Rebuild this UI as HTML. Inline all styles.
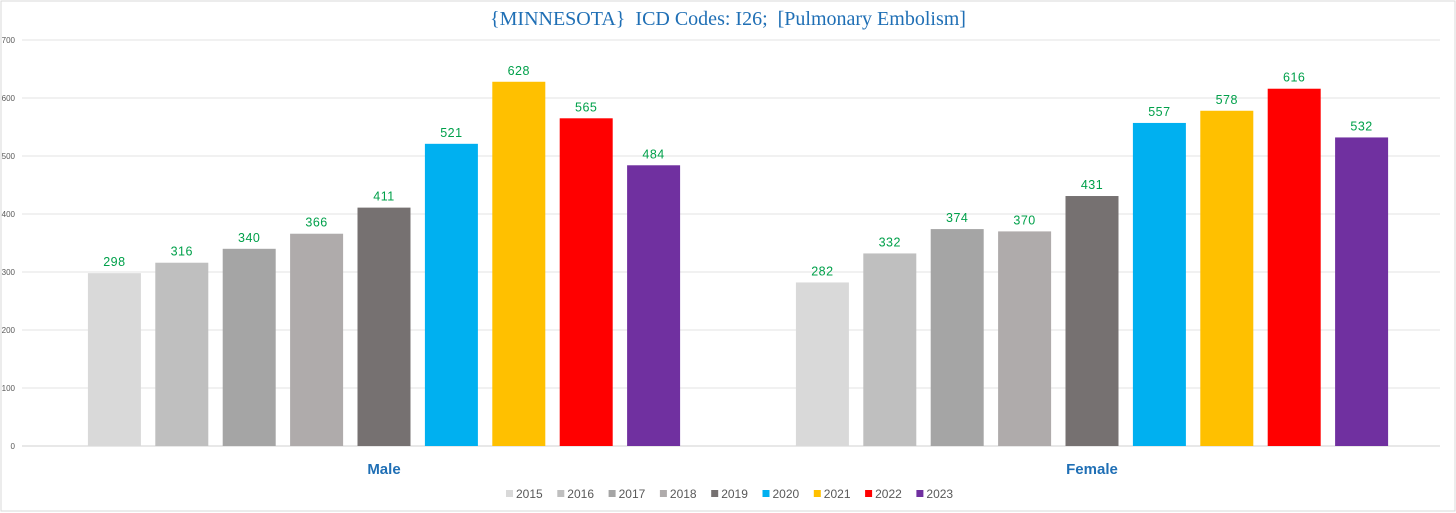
<!DOCTYPE html>
<html><head><meta charset="utf-8"><style>
body{margin:0;background:#fff;}
svg{display:block;font-family:"Liberation Sans",sans-serif;}
</style></head><body>
<svg id="chart" width="1456" height="513" viewBox="0 0 1456 513">
<rect x="1" y="1" width="1454" height="510" fill="#fff" stroke="#d9d9d9"/>
<text x="728" y="25" text-anchor="middle" font-family="Liberation Serif,serif" font-size="20" fill="#1f6fb5" style="white-space:pre">{MINNESOTA}  ICD Codes: I26;  [Pulmonary Embolism]</text>
<g id="grid"></g><g id="bars"></g><g id="legend"></g>
</svg>
<script>
const categories=["Male","Female"];
const years=["2015","2016","2017","2018","2019","2020","2021","2022","2023"];
const male=[298,316,340,366,411,521,628,565,484];
const female=[282,332,374,370,431,557,578,616,532];
const yTicks=[0,100,200,300,400,500,600,700];
const colors=["#d9d9d9","#bfbfbf","#a5a5a5","#afabab","#767171","#00b0f0","#ffc000","#ff0000","#7030a0"];
const series=[male,female];
const NS="http://www.w3.org/2000/svg";
function mk(t,a,p){const e=document.createElementNS(NS,t);for(const k in a)e.setAttribute(k,a[k]);p.appendChild(e);return e;}
const y0=446,y1=40,yMax=700;
const y=v=>y0-(v/yMax)*(y0-y1);
const bandX0=30,band=708,pitch=67.4,bw=53;
const catC=i=>bandX0+band*(i+0.5);
const grid=document.getElementById('grid');
yTicks.forEach(t=>{
 const l=mk('line',{x1:22,x2:1440,y1:y(t),y2:y(t),stroke:t===0?'#d0d0d0':'#e3e3e3','stroke-width':1},grid);
 
 
 const tx=mk('text',{x:15,y:y(t)+3,'text-anchor':'end','font-size':8,fill:'#595959'},grid);
 tx.textContent=t;
 
 
});
const bars=document.getElementById('bars');
categories.forEach((c,ci)=>{
 const cx=catC(ci);
 series[ci].forEach((v,i)=>{
  const x=cx+(i-4)*pitch-bw/2;
  const r=mk('rect',{x:x,y:y(v),width:bw,height:y0-y(v),fill:colors[i]},bars);
  
  
  const t=mk('text',{x:x+bw/2,y:y(v)-7,'text-anchor':'middle','font-size':12.5,'letter-spacing':0.5,fill:'#00a04a'},bars);
  t.textContent=v;
  
  
 });
 const lab=mk('text',{x:cx,y:474,'text-anchor':'middle','font-size':15,'font-weight':'bold',fill:'#1f6fb5'},bars);
 lab.textContent=c;
 
 
});
const lg=document.getElementById('legend');
years.forEach((yr,i)=>{
 const lx=506+i*51.3;
 const s=mk('rect',{x:lx,y:490,width:7,height:7,fill:colors[i]},lg);
 
 
 const t=mk('text',{x:lx+10,y:498,'font-size':12,fill:'#595959'},lg);
 t.textContent=yr;
 
 
});
</script>
</body></html>
